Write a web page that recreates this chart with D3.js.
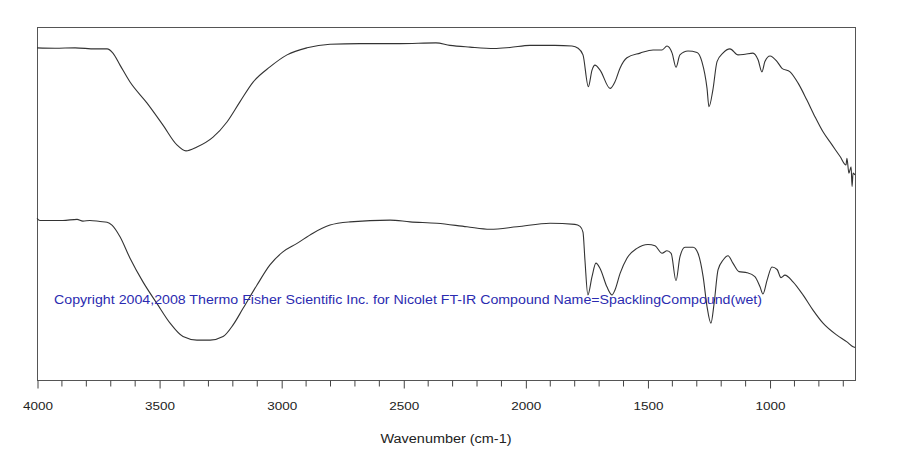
<!DOCTYPE html>
<html><head><meta charset="utf-8">
<script src="https://cdn.jsdelivr.net/npm/d3@7"></script>
<style>
html,body{margin:0;padding:0;background:#fff;}
svg{display:block;font-family:"Liberation Sans",Arial,sans-serif;}
</style></head>
<body><svg id="c" width="910" height="457"></svg>
<script>
// Wavenumbers (cm-1) and transmittance-like values (arbitrary %, offset spectra)
const upperWn = [4000,3926,3844,3762,3713,3689,3660,3619,3550,3484,3427,3390,3345,3279,3222,3169,3115,3046,2976,2894,2800,2677,2513,2366,2309,2227,2128,2063,1981,1879,1809,1784,1764,1742,1727,1715,1694,1653,1633,1612,1584,1530,1477,1440,1420,1399,1383,1367,1334,1297,1277,1256,1248,1232,1215,1191,1162,1129,1100,1068,1047,1031,1019,998,969,949,916,883,847,814,781,744,711,687,683,675,666,662,658,650];
const upperT  = [94.1,94.0,94.1,93.8,93.8,92.6,89.2,84.4,78.5,72.2,66.6,64.9,66.0,68.8,73.1,78.8,84.4,88.7,92.1,94.1,95.1,95.3,95.3,95.5,94.8,94.3,93.9,94.2,94.8,94.8,94.6,94.0,92.1,83.1,87.8,89.2,87.8,82.6,84.5,88.4,91.3,92.6,93.5,93.5,94.6,92.6,88.6,92.1,93.2,92.8,90.2,82.6,77.4,82.2,90.2,92.6,93.8,92.1,92.3,92.6,90.7,87.3,90.2,91.8,90.2,88.3,87.3,84.1,79.3,74.6,70.3,66.6,63.3,60.9,62.8,58.6,60.4,54.8,58.6,58.1];
const lowerWn = [4000,3988,3894,3836,3812,3783,3742,3713,3693,3660,3619,3566,3509,3455,3402,3345,3291,3238,3197,3156,3099,3046,2993,2935,2870,2800,2718,2554,2472,2362,2239,2145,2034,1899,1797,1776,1764,1756,1744,1727,1711,1694,1666,1645,1633,1612,1584,1543,1498,1469,1440,1420,1403,1383,1367,1346,1313,1293,1272,1256,1240,1227,1211,1190,1170,1150,1125,1092,1060,1039,1027,1010,990,969,953,937,904,863,822,781,724,683,658,650];
const lowerT  = [45.8,45.2,45.2,45.5,45.0,45.2,44.9,44.7,43.9,40.6,34.5,27.8,21.7,16.1,12.3,11.3,11.3,12.3,15.6,20.3,26.9,32.6,36.3,38.7,41.6,43.9,44.8,45.3,44.8,44.4,43.4,42.7,43.4,44.4,44.1,43.5,41.9,34.0,24.1,29.3,33.1,31.6,26.4,24.1,25.5,30.2,34.5,37.3,38.4,38.0,35.9,36.6,35.9,28.1,34.9,37.6,37.6,35.9,29.3,20.8,16.1,21.7,31.2,34.0,35.2,33.1,30.7,30.4,29.3,26.4,24.4,28.3,32.0,31.3,29.0,29.7,27.8,24.1,19.8,16.1,12.7,10.8,9.4,9.2];
const majorTicks = [4000,3500,3000,2500,2000,1500,1000];
const xTitle = "Wavenumber (cm-1)";
const note = "Copyright 2004,2008 Thermo Fisher Scientific Inc. for Nicolet FT-IR Compound Name=SpacklingCompound(wet)";

const svg = d3.select("#c");
const L=37, R=855, T=27, B=380;
const x = d3.scaleLinear().domain([4000,650]).range([L,R]);
const y = d3.scaleLinear().domain([0,100]).range([B,T]);

// frame
svg.append("rect").attr("x",L+0.5).attr("y",T+0.5).attr("width",R-L).attr("height",B-T)
  .attr("fill","none").attr("stroke","#555").attr("stroke-width",1);

// axis
const minor = d3.range(4000,649,-100).filter(v=>v%500!==0);
const ax = svg.append("g").attr("transform",`translate(0.5,${B+0.5})`);
ax.call(d3.axisBottom(x).tickValues(majorTicks).tickSize(8).tickPadding(13).tickFormat(d3.format("d")));
ax.select(".domain").remove();
ax.selectAll(".tick line").attr("stroke","#444");
ax.selectAll(".tick text").attr("font-size",11.5).attr("fill","#222")
  .attr("font-family","'Liberation Sans',Arial,sans-serif")
  .attr("textLength",30).attr("lengthAdjust","spacingAndGlyphs");
ax.selectAll(".minor").data(minor).enter().append("line").attr("class","minor")
  .attr("x1",d=>x(d)).attr("x2",d=>x(d)).attr("y1",0).attr("y2",6).attr("stroke","#444");

svg.append("text").attr("x",446).attr("y",443).attr("text-anchor","middle")
  .attr("font-size",12).attr("fill","#222")
  .attr("textLength",131).attr("lengthAdjust","spacingAndGlyphs").text(xTitle);

const line = d3.line().x(d=>x(d[0])).y(d=>y(d[1])).curve(d3.curveMonotoneX);
[[upperWn,upperT],[lowerWn,lowerT]].forEach(([w,t])=>{
  svg.append("path").datum(d3.zip(w,t)).attr("d",line)
    .attr("fill","none").attr("stroke","#333").attr("stroke-width",1.1);
});

svg.append("text").attr("x",54).attr("y",304).attr("font-size",12)
  .attr("fill","#2b2bb0").attr("textLength",708).attr("lengthAdjust","spacingAndGlyphs").text(note);
</script></body></html>
